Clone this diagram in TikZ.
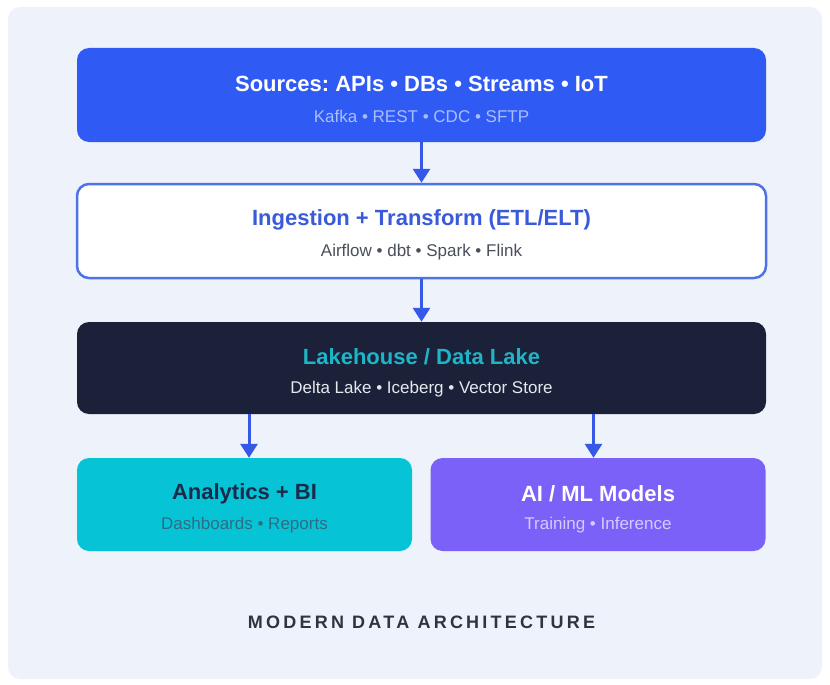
\documentclass[tikz,border=0pt]{standalone}
\usepackage{fontspec}
\setmainfont{Liberation Sans}
\newfontfamily\capfont[LetterSpace=18]{Liberation Sans}
\usetikzlibrary{arrows.meta}
\frenchspacing

\definecolor{panel}{HTML}{EEF2FB}
\definecolor{srcblue}{HTML}{2F5BF4}
\definecolor{srcsub}{HTML}{A9BDFF}
\definecolor{ingline}{HTML}{4F72E8}
\definecolor{ingtitle}{HTML}{3A5BD9}
\definecolor{inggray}{HTML}{4A4F5C}
\definecolor{lakenavy}{HTML}{1B2139}
\definecolor{laketeal}{HTML}{1FB5C8}
\definecolor{lakesub}{HTML}{E6E8EF}
\definecolor{anacyan}{HTML}{06C3D5}
\definecolor{anatitle}{HTML}{1A2B4C}
\definecolor{anasub}{HTML}{2A6F86}
\definecolor{aipurple}{HTML}{7B61F8}
\definecolor{aisub}{HTML}{D4CCFF}
\definecolor{arrowblue}{HTML}{3558E6}
\definecolor{captext}{HTML}{2E3440}

\begin{document}
\begin{tikzpicture}[x=1pt, y=-1pt,
    box/.style={rounded corners=12pt, minimum width=689pt, minimum height=94pt, inner sep=0pt},
    half/.style={box, minimum width=335pt, minimum height=93pt},
    head/.style={font=\bfseries\fontsize{22}{25}\selectfont},
    sub/.style={font=\fontsize{17}{20}\selectfont},
    flow/.style={draw=arrowblue, line width=3pt, -{Triangle[width=17pt,length=14pt]}}]

    \useasboundingbox (0,0) rectangle (830,685);
    \fill[white] (0,0) rectangle (830,685);
    \fill[panel, rounded corners=12pt] (8,7) rectangle (822,679);

    % layers
    \node[box, fill=srcblue] (src) at (421.5,95) {};
    \node[head, text=white] (srct) at ([yshift=11pt]src.center) {Sources: APIs • DBs • Streams • IoT};
    \node[sub, text=srcsub] (srcs) at ([yshift=-21pt]src.center) {Kafka • REST • CDC • SFTP};

    \node[box, fill=white, draw=ingline, line width=2.5pt] (ing) at (421.5,231) {};
    \node[head, text=ingtitle] (ingt) at ([yshift=11pt]ing.center) {Ingestion + Transform (ETL/ELT)};
    \node[sub, text=inggray] (ings) at ([yshift=-21pt]ing.center) {Airflow • dbt • Spark • Flink};

    \node[box, fill=lakenavy, minimum height=92pt] (lake) at (421.5,368) {};
    \node[head, text=laketeal] (laket) at ([yshift=11pt]lake.center) {Lakehouse / Data Lake};
    \node[sub, text=lakesub] (lakes) at ([yshift=-21pt]lake.center) {Delta Lake • Iceberg • Vector Store};

    \node[half, fill=anacyan] (ana) at (244.5,504.5) {};
    \node[head, text=anatitle] (anat) at ([yshift=11pt]ana.center) {Analytics + BI};
    \node[sub, text=anasub] (anas) at ([yshift=-21pt]ana.center) {Dashboards • Reports};

    \node[half, fill=aipurple] (ai) at (598,504.5) {};
    \node[head, text=white] (ait) at ([yshift=11pt]ai.center) {AI / ML Models};
    \node[sub, text=aisub] (ais) at ([yshift=-21pt]ai.center) {Training • Inference};

    % arrows
    \draw[flow] (src) -- (ing);
    \draw[flow] (ing) -- (lake);
    \draw[flow] ([xshift=4.5pt]lake.south -| ana.north) -- ([xshift=4.5pt]ana.north);
    \draw[flow] ([xshift=-4.5pt]lake.south -| ai.north) -- ([xshift=-4.5pt]ai.north);

    \node[text=captext, font=\capfont\bfseries\fontsize{18}{21}\selectfont] (cap) at (421.5,622) {MODERN DATA ARCHITECTURE};
\end{tikzpicture}
\end{document}
